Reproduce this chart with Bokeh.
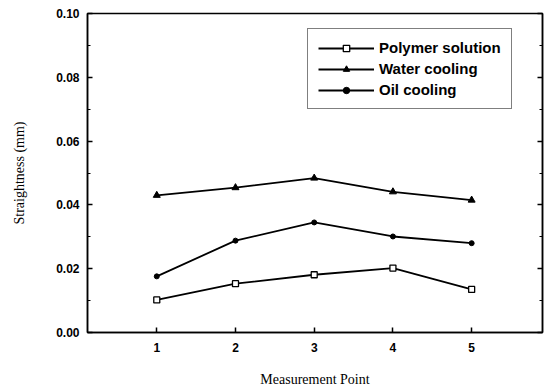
from bokeh.plotting import figure
from bokeh.models import (LinearAxis, FixedTicker, Legend, LegendItem, Range1d,
                          PrintfTickFormatter, CustomJSTickFormatter)
from bokeh.embed import file_html
from bokeh.resources import INLINE

points = [1, 2, 3, 4, 5]
polymer = [0.0102, 0.0153, 0.0181, 0.0202, 0.0135]
water = [0.0430, 0.0454, 0.0484, 0.0441, 0.0415]
oil = [0.0176, 0.0288, 0.0345, 0.0301, 0.0280]
x_ticks = [1, 2, 3, 4, 5]
y_ticks = [0.0, 0.02, 0.04, 0.06, 0.08, 0.10]
y_minor = [0.01, 0.03, 0.05, 0.07, 0.09]

p = figure(width=552, height=389, output_backend="svg", toolbar_location=None,
           x_range=Range1d(0.12, 5.9), y_range=Range1d(0.0, 0.10),
           min_border_left=87, min_border_right=10, min_border_top=13, min_border_bottom=55)
p.grid.visible = False
p.outline_line_color = "black"
p.outline_line_width = 1.5
p.background_fill_color = "white"
p.border_fill_color = "white"

tick_font = "Liberation Sans"
for ax in p.xaxis + p.yaxis:
    ax.major_tick_in = 5
    ax.major_tick_out = 0
    ax.minor_tick_in = 3
    ax.minor_tick_out = 0
    ax.axis_line_width = 1.5
    ax.major_tick_line_width = 1.5
    ax.major_label_text_font = tick_font
    ax.major_label_text_font_style = "bold"
    ax.major_label_text_font_size = "12px"
    ax.major_label_text_color = "black"
    ax.axis_label_text_font = "Liberation Serif"
    ax.axis_label_text_font_style = "normal"
    ax.axis_label_text_font_size = "14px"
    ax.axis_label_text_color = "black"

p.xaxis.ticker = FixedTicker(ticks=x_ticks)
p.xaxis.axis_label = "Measurement Point"
p.xaxis.major_label_standoff = 10
p.xaxis.axis_label_standoff = 17

p.yaxis.ticker = FixedTicker(ticks=y_ticks, minor_ticks=y_minor)
p.yaxis.formatter = PrintfTickFormatter(format="%.2f")
p.yaxis.axis_label = "Straightness (mm)"
p.yaxis.major_label_standoff = 8
p.yaxis.axis_label_standoff = 26

right = LinearAxis(ticker=FixedTicker(ticks=y_ticks, minor_ticks=y_minor),
                   formatter=CustomJSTickFormatter(code="return ''"),
                   major_tick_in=5, major_tick_out=0,
                   minor_tick_in=3, minor_tick_out=0, axis_line_width=1.5, major_tick_line_width=1.5)
p.add_layout(right, "right")

lw = 1.8
l1 = p.line(points, polymer, line_color="black", line_width=lw)
s1 = p.scatter(points, polymer, marker="square", size=6, fill_color="white", line_color="black", line_width=1.3)
l2 = p.line(points, water, line_color="black", line_width=lw)
s2 = p.scatter(points, water, marker="triangle", size=7, fill_color="black", line_color="black")
l3 = p.line(points, oil, line_color="black", line_width=lw)
s3 = p.scatter(points, oil, marker="circle", size=5, fill_color="black", line_color="black")

legend = Legend(items=[
    LegendItem(label="Polymer solution", renderers=[l1, s1]),
    LegendItem(label="Water cooling", renderers=[l2, s2]),
    LegendItem(label="Oil cooling", renderers=[l3, s3]),
], location=(220, 223))
legend.label_text_font = tick_font
legend.label_text_font_style = "bold"
legend.label_text_font_size = "15px"
legend.label_text_color = "black"
legend.glyph_width = 56
legend.glyph_height = 16
legend.label_height = 16
legend.spacing = 4
legend.padding = 10
legend.margin = 0
legend.label_standoff = 5
legend.border_line_color = "black"
legend.border_line_width = 1.5
legend.background_fill_alpha = 1
p.add_layout(legend, "center")

open("out.html", "w").write(file_html(p, INLINE))
